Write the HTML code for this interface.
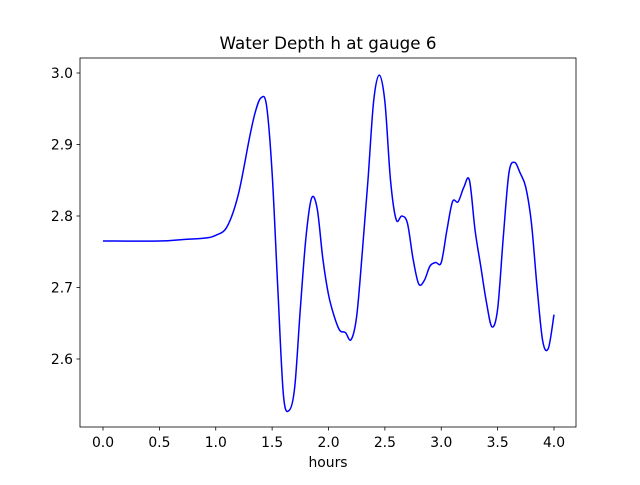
<!DOCTYPE html>
<html><head><meta charset="utf-8"><style>
body{margin:0;background:#fff;}
svg text{font-family:"DejaVu Sans","Liberation Sans",sans-serif;fill:#000;}
</style></head><body>
<svg id="chart" width="640" height="480">
<rect width="640" height="480" fill="#fff"/>
<text x="328" y="49" text-anchor="middle" font-size="16.7">Water Depth h at gauge 6</text>
<g id="xt"></g>
<g id="yt"></g>
<path id="line" fill="none" stroke="#0000ff" stroke-width="1.5"/>
<rect x="80" y="58" width="496" height="369" fill="none" stroke="#000" stroke-width="0.8"/>
<text x="328" y="467" text-anchor="middle" font-size="13.9">hours</text>
</svg>
<script>
const xs=[0,0.5,0.7,0.9,1.0,1.1,1.2,1.3,1.35,1.4,1.45,1.5,1.55,1.6,1.65,1.7,1.75,1.8,1.85,1.9,1.95,2.0,2.05,2.1,2.15,2.2,2.25,2.3,2.35,2.4,2.45,2.5,2.55,2.6,2.65,2.7,2.75,2.8,2.85,2.9,2.95,3.0,3.05,3.1,3.15,3.2,3.25,3.3,3.35,3.4,3.45,3.5,3.55,3.6,3.65,3.7,3.75,3.8,3.85,3.9,3.95,4.0];
const depth=[2.765,2.765,2.767,2.769,2.773,2.785,2.83,2.91,2.945,2.965,2.955,2.86,2.70,2.55,2.528,2.56,2.67,2.77,2.825,2.81,2.74,2.69,2.66,2.64,2.637,2.627,2.66,2.75,2.85,2.96,2.997,2.96,2.85,2.795,2.80,2.79,2.74,2.705,2.71,2.73,2.735,2.735,2.78,2.82,2.82,2.84,2.85,2.78,2.73,2.68,2.645,2.67,2.77,2.86,2.875,2.86,2.84,2.79,2.70,2.625,2.615,2.662];
const xTicks=[0,0.5,1,1.5,2,2.5,3,3.5,4];
const yTicks=[2.6,2.7,2.8,2.9,3.0];
const X=v=>103+v*112.75, Y=v=>359-(v-2.6)*715;
const ns='http://www.w3.org/2000/svg';
const xt=document.getElementById('xt'), yt=document.getElementById('yt');
xTicks.forEach(t=>{
 const l=document.createElementNS(ns,'line');
 l.setAttribute('x1',X(t));l.setAttribute('x2',X(t));l.setAttribute('y1',427);l.setAttribute('y2',430.5);l.setAttribute('stroke','#000');l.setAttribute('stroke-width','0.8');
 
 
 xt.appendChild(l);
 const s=document.createElementNS(ns,'text');
 s.setAttribute('x',X(t));s.setAttribute('y',447);s.setAttribute('text-anchor','middle');s.setAttribute('font-size','13.9');
 s.textContent=t.toFixed(1);
 
 
 xt.appendChild(s);
});
yTicks.forEach(t=>{
 const l=document.createElementNS(ns,'line');
 l.setAttribute('x1',76.5);l.setAttribute('x2',80);l.setAttribute('y1',Y(t));l.setAttribute('y2',Y(t));l.setAttribute('stroke','#000');l.setAttribute('stroke-width','0.8');
 
 
 yt.appendChild(l);
 const s=document.createElementNS(ns,'text');
 s.setAttribute('x',73);s.setAttribute('y',Y(t)+5);s.setAttribute('text-anchor','end');s.setAttribute('font-size','13.9');
 s.textContent=t.toFixed(1);
 
 
 yt.appendChild(s);
});
const P=xs.map((x,i)=>[X(x),Y(depth[i])]);
let d='M'+P[0][0]+','+P[0][1];
for(let i=0;i<P.length-1;i++){
 const p0=P[Math.max(0,i-1)],p1=P[i],p2=P[i+1],p3=P[Math.min(P.length-1,i+2)];
 const c1=[p1[0]+(p2[0]-p0[0])/6,p1[1]+(p2[1]-p0[1])/6];
 const c2=[p2[0]-(p3[0]-p1[0])/6,p2[1]-(p3[1]-p1[1])/6];
 d+=' C'+c1+' '+c2+' '+p2;
}
document.getElementById('line').setAttribute('d',d);
</script>
</body></html>
